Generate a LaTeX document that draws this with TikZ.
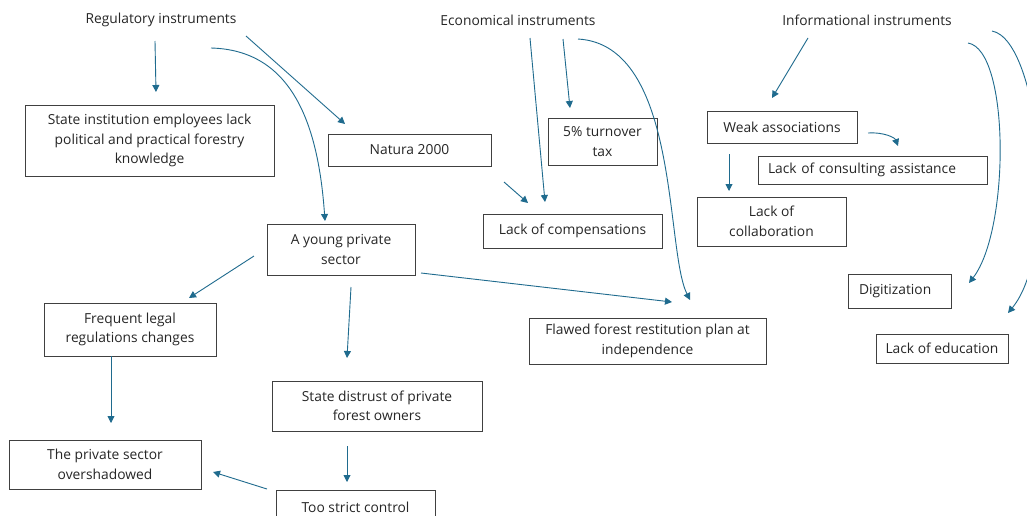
\documentclass[tikz,border=0pt]{standalone}
\usepackage{fontspec}
\setmainfont{Open Sans}
\usetikzlibrary{arrows.meta}
\definecolor{arr}{HTML}{1F6B8E}
\definecolor{txt}{HTML}{262626}
\definecolor{bord}{HTML}{404040}
\begin{document}
\begin{tikzpicture}[x=1pt,y=-1pt,
  font=\fontsize{13.8}{19.5}\selectfont, text=txt,
  box/.style={draw=bord, line width=0.9pt, align=center, inner sep=0pt},
  leftbox/.style={draw=bord, line width=0.9pt, align=left, inner ysep=0pt},
  conn/.style={draw=arr, line width=0.9pt, -{Triangle[length=7pt,width=7pt]}},
  lbl/.style={inner sep=0pt}]
\useasboundingbox (0,0) rectangle (1027,515);
\clip (0,0) rectangle (1027,515);
\fill[white] (0,0) rectangle (1027,515);

% headings
\node[lbl] (reg) at (161,20) {Regulatory instruments};
\node[lbl] (eco) at (518,20) {Economical instruments};
\node[lbl] (inf) at (867,20) {Informational instruments};

% boxes
\node[box, minimum width=249, minimum height=71] (state) at (149.5,140.5) {State institution employees lack\\political and practical forestry\\knowledge};
\node[box, minimum width=163, minimum height=32] (natura) at (409.5,150) {Natura 2000};
\node[box, minimum width=148, minimum height=51] (young) at (341,249.5) {A young private\\sector};
\node[box, minimum width=172, minimum height=53] (frequent) at (130,329.5) {Frequent legal\\regulations changes};
\node[box, minimum width=210, minimum height=50] (distrust) at (377,406) {State distrust of private\\forest owners};
\node[box, minimum width=192, minimum height=49] (shadow) at (105,464.5) {The private sector\\overshadowed};
\node[box, minimum width=159, minimum height=34] (strict) at (355.5,507) {Too strict control};
\node[box, minimum width=109, minimum height=47] (tax) at (602.5,141.5) {5\% turnover\\tax};
\node[box, minimum width=179, minimum height=34] (comp) at (572.5,231) {Lack of compensations};
\node[box, minimum width=237, minimum height=46] (flawed) at (647.5,341) {Flawed forest restitution plan at\\independence};
\node[box, minimum width=150, minimum height=32] (weak) at (782,127) {Weak associations};
\node[leftbox, inner xsep=10pt, text width=209pt, minimum height=28] (consult) at (872.5,170) {Lack of consulting assistance};
\node[box, minimum width=149, minimum height=49] (collab) at (771.5,221.5) {Lack of\\collaboration};
\node[leftbox, inner xsep=11pt, text width=81pt, minimum height=34] (digit) at (899.5,291) {Digitization};
\node[box, minimum width=132, minimum height=29] (edu) at (942,348.5) {Lack of education};

% connector end points
\coordinate (a1s) at (155,41);  \coordinate (a1e) at (156,92);
\coordinate (a2s) at (211,48);  \coordinate (a2e) at (325,221);
\coordinate (a3s) at (246,36);  \coordinate (a3e) at (345,124);
\coordinate (a4s) at (254,256); \coordinate (a4e) at (189,298);
\coordinate (a5s) at (351,287); \coordinate (a5e) at (347,358);
\coordinate (a6s) at (111,356); \coordinate (a6e) at (111,423);
\coordinate (a7s) at (347,446); \coordinate (a7e) at (347,482);
\coordinate (a8s) at (267,489); \coordinate (a8e) at (213,472);
\coordinate (a9s) at (421,273); \coordinate (a9e) at (672,302);
\coordinate (a10s) at (530,38); \coordinate (a10e) at (545,202);
\coordinate (a11s) at (563,39); \coordinate (a11e) at (570,108);
\coordinate (a12s) at (578,39); \coordinate (a12e) at (690,300);
\coordinate (a13s) at (504,182); \coordinate (a13e) at (528,203);
\coordinate (a14s) at (808,38); \coordinate (a14e) at (772,98);
\coordinate (a15s) at (868,133); \coordinate (a15e) at (898,146);
\coordinate (a16s) at (729,154); \coordinate (a16e) at (729,191);
\coordinate (a17s) at (968,43); \coordinate (a17e) at (969,283);
\coordinate (a18s) at (992,31); \coordinate (a18e) at (1008,313);

% connectors
\draw[conn] (a1s) -- (a1e);
\draw[conn] (a2s) .. controls (290,50) and (318,120) .. (a2e);
\draw[conn] (a3s) -- (a3e);
\draw[conn] (a4s) -- (a4e);
\draw[conn] (a5s) -- (a5e);
\draw[conn] (a6s) -- (a6e);
\draw[conn] (a7s) -- (a7e);
\draw[conn] (a8s) -- (a8e);
\draw[conn] (a9s) -- (a9e);
\draw[conn] (a10s) -- (a10e);
\draw[conn] (a11s) -- (a11e);
\draw[conn] (a12s) .. controls (680,45) and (665,250) .. (a12e);
\draw[conn] (a13s) -- (a13e);
\draw[conn] (a14s) -- (a14e);
\draw[conn] (a15s) .. controls (885,132) and (895,138) .. (a15e);
\draw[conn] (a16s) -- (a16e);
\draw[conn] (a17s) .. controls (1010,50) and (1010,230) .. (a17e);
\draw[conn] (a18s) .. controls (1040,40) and (1060,250) .. (a18e);
\end{tikzpicture}
\end{document}
